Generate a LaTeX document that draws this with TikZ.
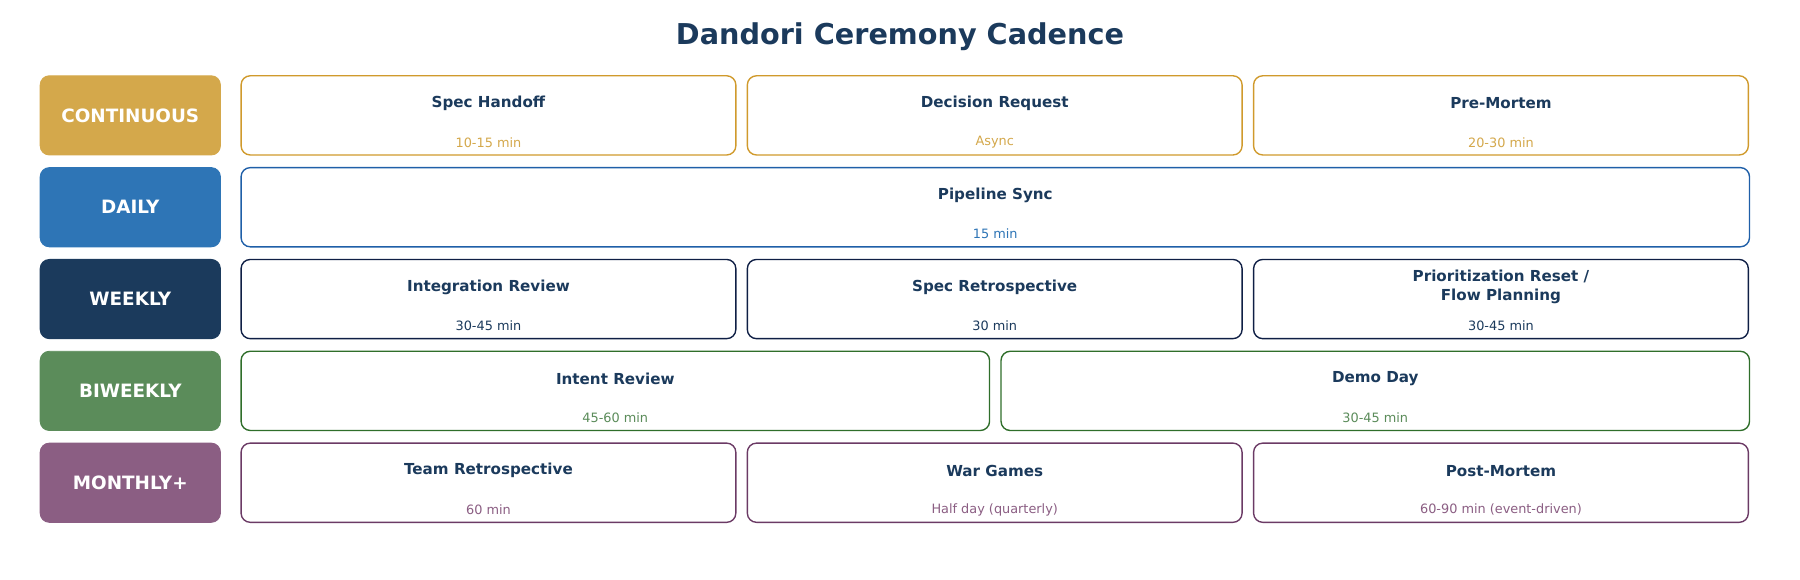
\documentclass[tikz,border=0pt]{standalone}
\usepackage{fontspec}
\setmainfont{DejaVu Sans}
\definecolor{navy}{HTML}{1B3A5C}
\definecolor{cgold}{HTML}{D4A84B}
\definecolor{cblue}{HTML}{2E75B6}
\definecolor{cgreen}{HTML}{5B8C5A}
\definecolor{cpurple}{HTML}{8B5E83}
\definecolor{lgold}{HTML}{D09A2C}
\definecolor{lblue}{HTML}{1F5FA8}
\definecolor{lnavy}{HTML}{0F1F45}
\definecolor{lgreen}{HTML}{2F6E2A}
\definecolor{lpurple}{HTML}{6B3A65}
\tikzset{
  lane/.style={rounded corners=4pt,draw=#1,fill=#1},
  card/.style={rounded corners=4pt,draw=#1,fill=white,line width=0.6pt},
  lanetext/.style={text=white,font=\bfseries\fontsize{8}{9}\selectfont},
  cardtitle/.style={text=navy,font=\bfseries\fontsize{6.6}{8}\selectfont,align=center},
  cardsub/.style={text=#1,font=\fontsize{5.6}{7}\selectfont},
}
\newcommand{\lanebox}[4]{% name, top, colour, text
  \draw[lane=#3] (35,#2) rectangle (192,#2+69);
  \node[lanetext] (#1) at (113.5,#2+34.5) {#4};}
\newcommand{\cardbox}[7]{% name, left, right, top, border, title, sub/colour
  \draw[card=#5] (#2,#4) rectangle (#3,#4+69);
  \node[cardtitle] (#1) at ({(#2+#3)/2},#4+24) {#6};
  \node[cardsub=#7] (#1s) at ({(#2+#3)/2},#4+58) {\subtext};}
\begin{document}
\begin{tikzpicture}[x=0.5pt,y=-0.5pt]
  \useasboundingbox (0,0) rectangle (1568,505);
  \node[text=navy,font=\bfseries\fontsize{12.5}{15}\selectfont] (title) at (784,32) {Dandori Ceremony Cadence};

  %% lanes
  \lanebox{cont}{66}{cgold}{CONTINUOUS}
  \lanebox{daily}{146}{cblue}{DAILY}
  \lanebox{weekly}{226}{navy}{WEEKLY}
  \lanebox{biweekly}{306}{cgreen}{BIWEEKLY}
  \lanebox{monthly}{386}{cpurple}{MONTHLY+}

  %% continuous
  \def\subtext{10-15 min}\cardbox{handoff}{210}{641}{66}{lgold}{Spec Handoff}{cgold}
  \def\subtext{Async}\cardbox{decision}{651}{1082}{66}{lgold}{Decision Request}{cgold}
  \def\subtext{20-30 min}\cardbox{premortem}{1092}{1523}{66}{lgold}{Pre-Mortem}{cgold}

  %% daily
  \def\subtext{15 min}\cardbox{sync}{210}{1524}{146}{lblue}{Pipeline Sync}{cblue}

  %% weekly
  \def\subtext{30-45 min}\cardbox{integ}{210}{641}{226}{lnavy}{Integration Review}{navy}
  \def\subtext{30 min}\cardbox{specretro}{651}{1082}{226}{lnavy}{Spec Retrospective}{navy}
  \def\subtext{30-45 min}\cardbox{reset}{1092}{1523}{226}{lnavy}{Prioritization Reset /\\Flow Planning}{navy}

  %% biweekly
  \def\subtext{45-60 min}\cardbox{intent}{210}{862}{306}{lgreen}{Intent Review}{cgreen}
  \def\subtext{30-45 min}\cardbox{demo}{872}{1524}{306}{lgreen}{Demo Day}{cgreen}

  %% monthly+
  \def\subtext{60 min}\cardbox{teamretro}{210}{641}{386}{lpurple}{Team Retrospective}{cpurple}
  \def\subtext{Half day (quarterly)}\cardbox{wargames}{651}{1082}{386}{lpurple}{War Games}{cpurple}
  \def\subtext{60-90 min (event-driven)}\cardbox{postmortem}{1092}{1523}{386}{lpurple}{Post-Mortem}{cpurple}
\end{tikzpicture}
\end{document}
